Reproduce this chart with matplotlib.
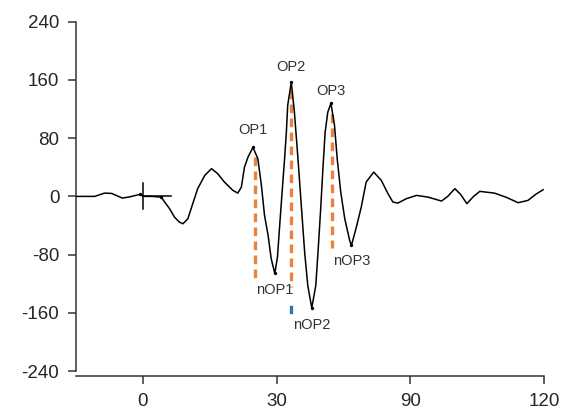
#!/usr/bin/env python
import matplotlib
matplotlib.use("Agg")
import matplotlib.pyplot as plt

plt.rcParams['font.family'] = ['Liberation Sans', 'DejaVu Sans']
plt.rcParams['axes.unicode_minus'] = False

# waveform samples (time, amplitude)
t = [-15.0, -10.8, -8.6, -7.0, -4.6, -3.0, -0.7, 0.2, 2.0, 4.1, 6.0, 7.1,
     8.2, 9.0, 10.1, 11.2, 12.3, 13.9, 15.4, 16.8, 18.3, 20.2, 21.3, 22.1,
     22.8, 23.6, 24.7, 25.8, 26.6, 27.3, 28.1, 28.8, 29.6, 30.2, 30.7,
     31.3, 31.8, 32.2, 32.5, 33.3, 34.0, 34.8, 35.6, 36.3, 37.0, 37.9,
     38.8, 39.3, 39.9, 40.4, 40.9, 41.5, 42.2, 43.0, 43.6, 44.4, 45.3,
     46.4, 46.8, 47.9, 49.0, 50.1, 51.8, 53.5, 55.0, 56.1, 57.2, 59.1,
     61.4, 64.0, 67.0, 68.4, 70.0, 71.3, 72.7, 74.2, 75.6, 78.9, 81.6,
     84.2, 86.4, 88.1, 89.8]
amp = [0.0, 0.0, 4.5, 4.1, -2.3, -0.7, 2.7, 0.0, 0.0, -1.0, -16.9, -28.5,
       -35.4, -37.6, -30.7, -10.0, 10.6, 28.9, 38.1, 31.2, 19.7, 8.3, 4.5,
       12.8, 40.3, 54.1, 67.4, 51.9, 15.1, -26.1, -53.6, -85.7, -105.9,
       -83.5, -39.9, 10.6, 51.9, 88.4, 125.2, 156.8, 116.0, 51.9, -16.9,
       -76.6, -122.4, -153.4, -122.4, -76.6, -16.9, 38.1, 88.4, 116.0,
       127.9, 97.7, 51.9, 5.9, -30.7, -60.5, -67.4, -42.2, -14.7, 19.7,
       33.4, 22.0, 3.7, -7.8, -9.2, -3.2, 1.4, -1.0, -6.4, 0.0, 10.6, 2.7,
       -10.0, 0.0, 6.9, 4.5, -1.4, -8.7, -5.5, 2.7, 9.2]

# oscillatory potentials: peaks and troughs
op_names = ['OP1', 'OP2', 'OP3']
op_t = [24.7, 33.3, 42.2]
op_amp = [67.4, 156.8, 127.9]
nop_names = ['nOP1', 'nOP2', 'nOP3']
nop_t = [29.6, 37.9, 46.8]
nop_amp = [-105.9, -153.4, -67.4]

# dashed amplitude guides
guide_t = [25.1, 33.3, 42.4]
guide_top = [54.0, 146.0, 113.7]
guide_bottom = [-115.5, -124.7, -71.5]

xtick_pos = [0, 30, 60, 90]
xtick_lab = ['0', '30', '90', '120']
ytick_pos = [-240, -160, -80, 0, 80, 160, 240]

fig = plt.figure(figsize=(5.73, 4.11), dpi=100)
ax = fig.add_axes([0.1326, 0.0973, 0.8168, 0.8497])

ax.plot(t, amp, color='black', lw=1.1, zorder=3)
ax.plot([-0.7, 4.1] + op_t + nop_t, [2.7, -1.0] + op_amp + nop_amp, 'o',
        color='black', ms=1.4, zorder=4)

# stimulus marker
ax.plot([0, 0], [-17, 19], color='black', lw=1.1)
ax.plot([0, 6.4], [0, 0], color='black', lw=1.1)

for x, y0, y1 in zip(guide_t, guide_top, guide_bottom):
    ax.plot([x, x], [y0, y1], color='#EB823D', lw=2.4, ls=(0, (2.6, 1.6)),
            zorder=2)
ax.plot([33.3, 33.3], [-152, -159], color='#2E75B6', lw=2.4)

op_label_y = [90.8, 177.8, 144.4]
nop_label_y = [-129.0, -177.0, -89.0]
for name, x, y in zip(op_names, op_t, op_label_y):
    ax.text(x, y, name, ha='center', va='center', fontsize=10.5, color='#333333')
for name, x, y in zip(nop_names, nop_t, nop_label_y):
    ax.text(x, y, name, ha='center', va='center', fontsize=10.5, color='#333333')

ax.set_xlim(-15, 90)
ax.set_ylim(-240, 240)
ax.set_xticks(xtick_pos)
ax.set_xticklabels(xtick_lab)
ax.set_yticks(ytick_pos)

for s in ['top', 'right']:
    ax.spines[s].set_visible(False)
ax.spines['bottom'].set_position(('outward', 3.5))
for s in ['left', 'bottom']:
    ax.spines[s].set_color('#333333')
    ax.spines[s].set_linewidth(1.1)
ax.tick_params(length=6, width=1.1, color='#333333', labelsize=13.5,
               labelcolor='#262626', pad=6)

fig.savefig('out.png', dpi=100)
